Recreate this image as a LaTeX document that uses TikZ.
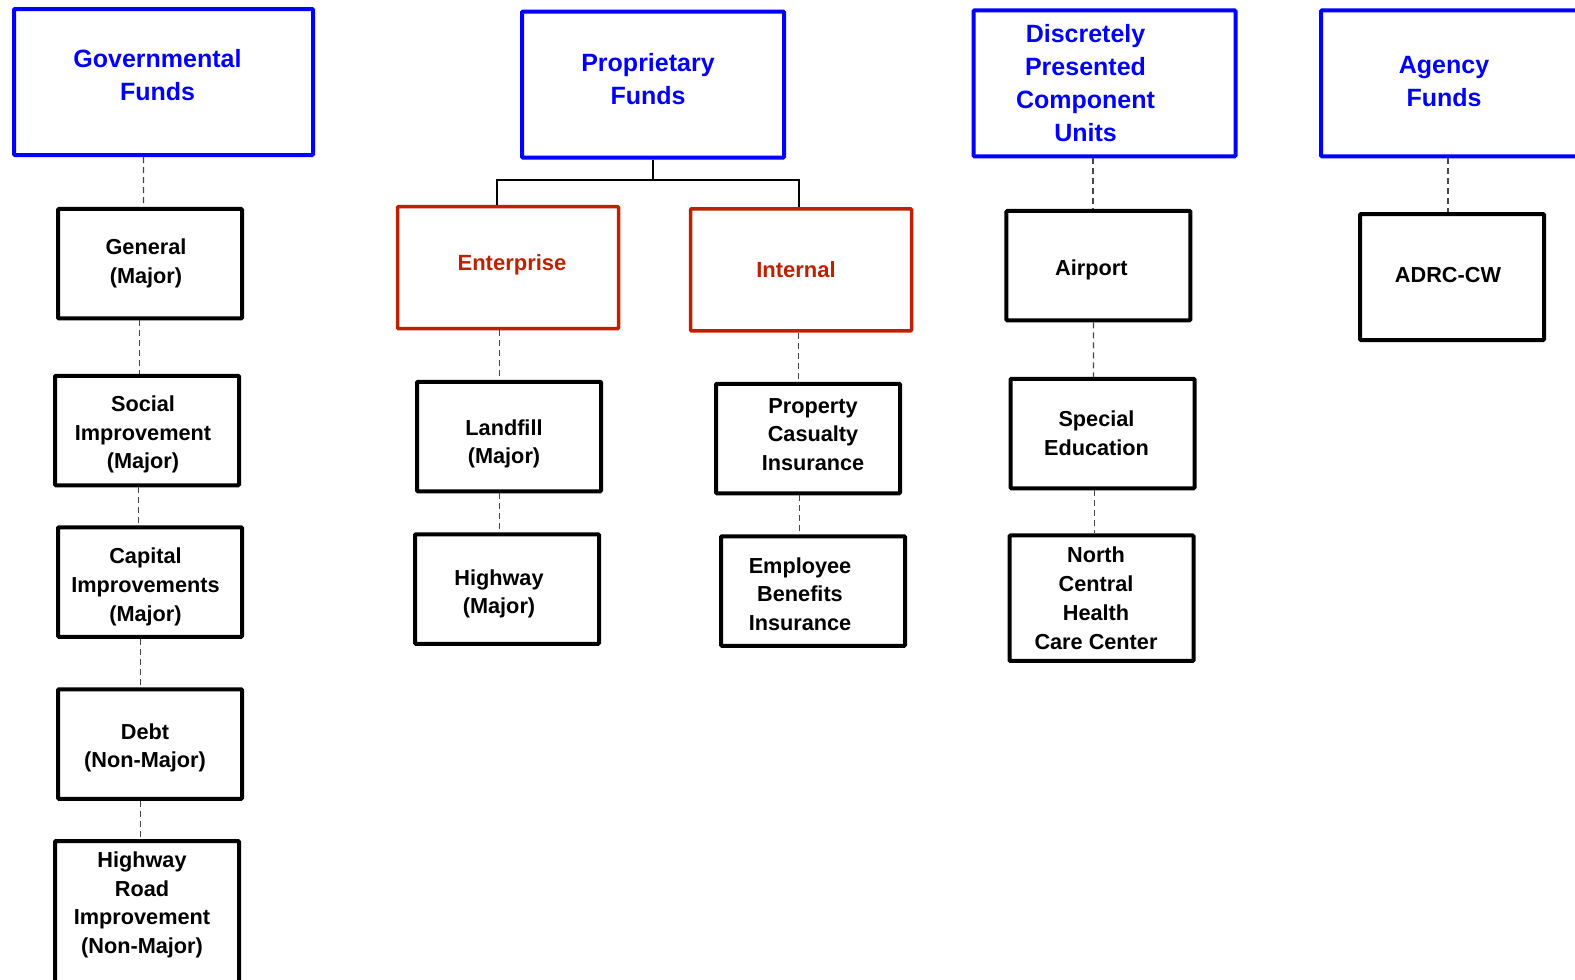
\documentclass[tikz,border=0pt]{standalone}
\usepackage{fontspec}
\setmainfont{Liberation Sans}
\definecolor{headblue}{RGB}{0,0,255}
\definecolor{typered}{RGB}{192,32,0}
\definecolor{linkgray}{RGB}{70,70,70}

\begin{document}
\begin{tikzpicture}[x=1pt,y=-1pt,
  fundhead/.style={draw=headblue,line width=4pt,rounded corners=1pt,minimum width=262pt,minimum height=146pt},
  fundtype/.style={draw=typered,line width=3.5pt,rounded corners=1pt,minimum width=221pt,minimum height=122pt},
  fundbox/.style={draw=black,line width=4pt,rounded corners=1pt,minimum width=184pt,minimum height=109.5pt},
  headtext/.style={text=headblue,align=center,font=\fontsize{25}{33}\selectfont\bfseries},
  typetext/.style={text=typered,align=center,font=\fontsize{22}{28}\selectfont\bfseries},
  boxtext/.style={align=center,font=\fontsize{21.7}{28.7}\selectfont\bfseries},
  dashlink/.style={draw=linkgray,line width=1.2pt,dash pattern=on 6pt off 4pt},
  treelink/.style={draw=black,line width=2pt}]
\clip (0,0) rectangle (1575,980);
% fund headers
\node (GOV) [fundhead,minimum width=299pt] at (163.5,82) {};
\node (PROP) [fundhead] at (653,84.5) {};
\node (DPCU) [fundhead] at (1104.5,83.4) {};
\node (AGCY) [fundhead] at (1452,83.4) {};
\node [headtext] at ([xshift=-6,yshift=7]GOV.center) {Governmental\\Funds};
\node [headtext] at ([xshift=-5,yshift=5]PROP.center) {Proprietary\\Funds};
\node [headtext] at ([xshift=-19]DPCU.center) {Discretely\\Presented\\Component\\Units};
\node [headtext] at ([xshift=-8,yshift=2]AGCY.center) {Agency\\Funds};
% governmental funds
\node (GEN) [fundbox] at (150,263.7) {};
\node (SOC) [fundbox] at (147,430.5) {};
\node (CAP) [fundbox] at (150,582) {};
\node (DEBT) [fundbox] at (150,744) {};
\node (HWYRD) [fundbox,minimum height=175pt,anchor=north] at (147,839) {};
\node [boxtext] at ([xshift=-4]GEN.center) {General\\(Major)};
\node [boxtext] at ([xshift=-4,yshift=-4]SOC.center) {Social\\Improvement\\(Major)};
\node [boxtext] at ([xshift=-4.5,yshift=-5]CAP.center) {Capital\\Improvements\\(Major)};
\node [boxtext] at ([xshift=-5,yshift=-4]DEBT.center) {Debt\\(Non-Major)};
\node [boxtext] at ([xshift=-5,yshift=-66]HWYRD.north) {Highway\\Road\\Improvement\\(Non-Major)};
% proprietary funds
\node (ENT) [fundtype] at (508,267.7) {};
\node (INT) [fundtype] at (801,269.8) {};
\node (LAND) [fundbox] at (509,436.5) {};
\node (HWY) [fundbox] at (507,589) {};
\node (PCI) [fundbox] at (808,438.5) {};
\node (EBI) [fundbox] at (813,591) {};
\node [typetext] at ([xshift=4,yshift=3]ENT.center) {Enterprise};
\node [typetext] at ([xshift=-5]INT.center) {Internal};
\node [boxtext] at ([xshift=-5,yshift=-7.5]LAND.center) {Landfill\\(Major)};
\node [boxtext] at ([xshift=-8,yshift=-5]HWY.center) {Highway\\(Major)};
\node [boxtext] at ([xshift=5,yshift=4]PCI.center) {Property\\Casualty\\Insurance};
\node [boxtext] at ([xshift=-13,yshift=-3]EBI.center) {Employee\\Benefits\\Insurance};
% component units
\node (AIR) [fundbox] at (1098.4,265.7) {};
\node (SPED) [fundbox] at (1102.5,433.5) {};
\node (NCHC) [fundbox,minimum height=125.5pt] at (1101.5,598.2) {};
\node [boxtext] at ([xshift=-7,yshift=-4]AIR.center) {Airport};
\node [boxtext] at ([xshift=-6]SPED.center) {Special\\Education};
\node [boxtext] at ([xshift=-5.5]NCHC.center) {North\\Central\\Health\\Care Center};
% agency funds
\node (ADRC) [fundbox,minimum height=126pt] at (1452,277) {};
\node [boxtext] at ([xshift=-4,yshift=2]ADRC.center) {ADRC-CW};
% links
\draw [dashlink] ([xshift=-20]GOV.south) -- ([xshift=-6.4]GEN.north);
\draw [dashlink] ([xshift=-10.4]GEN.south) -- ([xshift=-7.4]SOC.north);
\draw [dashlink] ([xshift=-8.4]SOC.south) -- ([xshift=-11.4]CAP.north);
\draw [dashlink] ([xshift=-9.4]CAP.south) -- ([xshift=-9.4]DEBT.north);
\draw [dashlink] ([xshift=-9.4]DEBT.south) -- ([xshift=-6.4]HWYRD.north);
\draw [treelink] (PROP.south) -- ++(0,20) -| ([xshift=-11]ENT.north);
\draw [treelink] (PROP.south) -- ++(0,20) -| ([xshift=-2.4]INT.north);
\draw [dashlink] ([xshift=-8.8]ENT.south) -- ([xshift=-9.8]LAND.north);
\draw [dashlink] ([xshift=-9.8]LAND.south) -- ([xshift=-7.8]HWY.north);
\draw [dashlink] ([xshift=-2.4]INT.south) -- ([xshift=-9.4]PCI.north);
\draw [dashlink] ([xshift=-8.4]PCI.south) -- ([xshift=-13.4]EBI.north);
\draw [dashlink] ([xshift=-11.6]DPCU.south) -- ([xshift=-5.5]AIR.north);
\draw [dashlink] ([xshift=-5]AIR.south) -- ([xshift=-9]SPED.north);
\draw [dashlink] ([xshift=-8]SPED.south) -- ([xshift=-7]NCHC.north);
\draw [dashlink] ([xshift=-4]AGCY.south) -- ([xshift=-4]ADRC.north);
\end{tikzpicture}
\end{document}
